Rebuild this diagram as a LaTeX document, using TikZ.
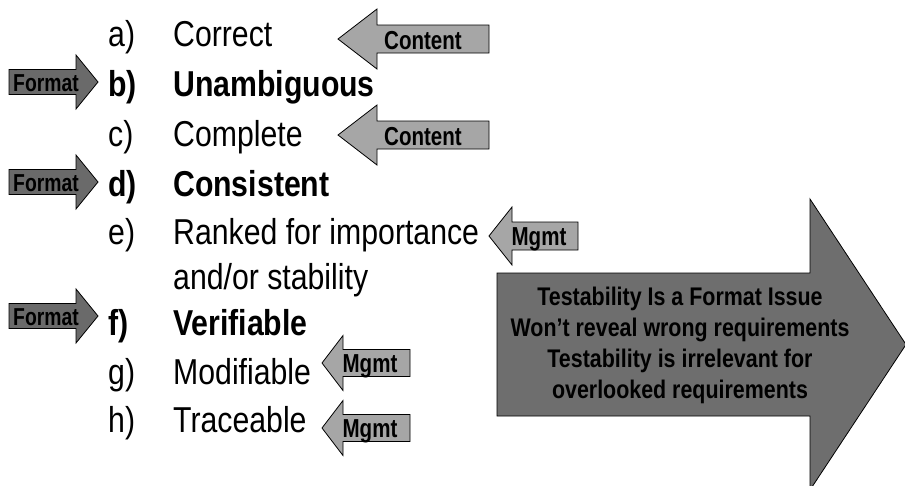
\documentclass[tikz,border=0pt]{standalone}
\usepackage{fontspec}
\setmainfont{Liberation Sans}[FakeStretch=0.84]
\newfontfamily\tagfamily{Liberation Sans}[FakeStretch=0.79]
\definecolor{lightarr}{HTML}{A6A6A6}
\definecolor{darkarr}{HTML}{6A6A6A}
\definecolor{bigarr}{HTML}{6E6E6E}
\tikzset{
  item/.style={anchor=base west, inner sep=0pt, font=\fontsize{36}{43}\selectfont},
  bolditem/.style={item, font=\fontsize{36}{43}\selectfont\bfseries},
  tag/.style={inner sep=0pt, font=\tagfamily\fontsize{26}{30}\selectfont\bfseries},
  fmttag/.style={inner sep=0pt, font=\tagfamily\fontsize{24.5}{28}\selectfont\bfseries},
  lightshape/.style={draw=black, line width=0.8pt, fill=lightarr},
  darkshape/.style={draw=black, line width=0.8pt, fill=darkarr},
  bigshape/.style={draw=black, line width=0.8pt, fill=bigarr},
  bigtext/.style={inner sep=0pt, align=center, font=\fontsize{25.5}{31}\selectfont\bfseries}
}
% left-pointing arrow: tip x, centre y, head base x, right x, shaft half height, head half height, style
\newcommand{\leftarrowshape}[7]{%
  \draw[#7] (#1,#2) -- (#3,{#2-#6}) -- (#3,{#2-#5}) -- (#4,{#2-#5}) -- (#4,{#2+#5}) -- (#3,{#2+#5}) -- (#3,{#2+#6}) -- cycle;}
% right-pointing arrow: left x, centre y, head base x, tip x, shaft half height, head half height, style
\newcommand{\rightarrowshape}[7]{%
  \draw[#7] (#1,{#2-#5}) -- (#3,{#2-#5}) -- (#3,{#2-#6}) -- (#4,#2) -- (#3,{#2+#6}) -- (#3,{#2+#5}) -- (#1,{#2+#5}) -- cycle;}
\begin{document}
\begin{tikzpicture}[x=1pt,y=-1pt]
\useasboundingbox (0,0) rectangle (905,485);
\fill[white] (0,0) rectangle (905,485);

% list items
\node[item] (la) at (108,46) {a)};
\node[item] (ta) at (173,46) {Correct};
\node[bolditem] (lb) at (108,96) {b)};
\node[bolditem] (tb) at (173,96) {Unambiguous};
\node[item] (lc) at (108,146) {c)};
\node[item] (tc) at (173,146) {Complete};
\node[bolditem] (ld) at (108,196) {d)};
\node[bolditem] (td) at (173,196) {Consistent};
\node[item] (le) at (108,244) {e)};
\node[item] (te) at (173,244) {Ranked for importance};
\node[item] (te2) at (173,289) {and/or stability};
\node[bolditem] (lf) at (108,335) {f)};
\node[bolditem] (tf) at (173,335) {Verifiable};
\node[item] (lg) at (108,384) {g)};
\node[item] (tg) at (173,384) {Modifiable};
\node[item] (lh) at (108,432) {h)};
\node[item] (th) at (173,432) {Traceable};

% Content arrows
\leftarrowshape{338}{39}{377}{489}{14}{30}{lightshape}
\node[tag] (c1) at (423,41) {Content};
\leftarrowshape{338}{135}{377}{489}{14}{30}{lightshape}
\node[tag] (c2) at (423,137) {Content};

% Format arrows
\rightarrowshape{9}{82}{76}{98}{12.5}{27}{darkshape}
\node[fmttag] (f1) at (46,83) {Format};
\rightarrowshape{9}{182}{76}{98}{12.5}{27}{darkshape}
\node[fmttag] (f2) at (46,183) {Format};
\rightarrowshape{9}{316}{76}{98}{12.5}{27}{darkshape}
\node[fmttag] (f3) at (46,317) {Format};

% Mgmt arrows
\leftarrowshape{489}{236}{512}{578}{14}{29}{lightshape}
\node[tag] (m1) at (539,239) {Mgmt};
\leftarrowshape{322}{363}{343}{410}{13.5}{27.5}{lightshape}
\node[tag] (m2) at (370,366) {Mgmt};
\leftarrowshape{322}{428}{343}{410}{13.5}{27.5}{lightshape}
\node[tag] (m3) at (370,431) {Mgmt};

% big arrow
\rightarrowshape{497}{344.5}{810}{906}{71.5}{145.5}{bigshape}
\node[bigtext] (big) at (680,345) {Testability Is a Format Issue\\Won’t reveal wrong requirements\\Testability is irrelevant for\\ overlooked requirements};
\end{tikzpicture}
\end{document}
